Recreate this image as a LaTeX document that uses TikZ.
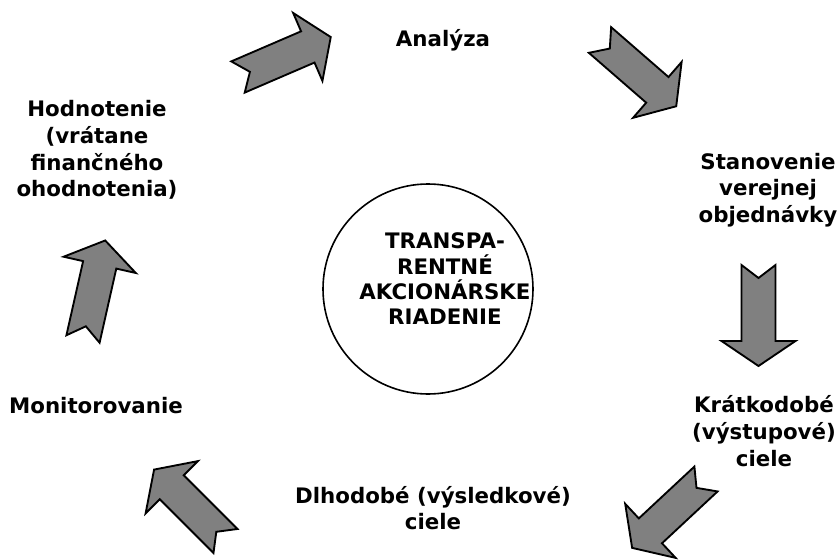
\documentclass[tikz,border=0pt]{standalone}
\usepackage{fontspec}
\setmainfont{DejaVu Sans}
\definecolor{arrowgray}{RGB}{128,128,128}
\begin{document}
\begin{tikzpicture}[x=0.75pt, y=-0.75pt,
  every node/.style = {align=center, inner sep=0pt,
    font=\fontsize{16}{20}\selectfont\bfseries},
  hub/.style = {circle, draw, line width=1.2pt, minimum size=157.5pt},
  blockarrow/.pic = {\draw[fill=arrowgray, line width=1.4pt, line join=miter]
    (0,-17) -- (13,0) -- (0,17) -- (76,17) -- (76,37) -- (101,0)
    -- (76,-37) -- (76,-17) -- cycle;}]

  \useasboundingbox (0,0) rectangle (840,560);

  \node [hub] (hub) at (428,289) {};
  \node [font=\fontsize{16}{19}\selectfont\bfseries] (title) at (445,279)
    {TRANSPA-\\RENTNÉ\\AKCIONÁRSKE\\RIADENIE};

  \node (analyza)    at (443,40)  {Analýza};
  \node (stanovenie) at (768,190) {Stanovenie\\verejnej\\objednávky};
  \node (kratkodobe) at (764,431) {Krátkodobé\\(výstupové)\\ciele};
  \node (dlhodobe)   at (433,508) {Dlhodobé (výsledkové)\\ciele};
  \node (monitor)    at (96,406)  {Monitorovanie};
  \node (hodnotenie) at (97,150)  {Hodnotenie\\(vrátane\\finančného\\ohodnotenia)};

  \pic [rotate=23.3]  at (238,77)    {blockarrow};
  \pic [rotate=-41]   at (600,40)    {blockarrow};
  \pic [rotate=-90]   at (758.5,265) {blockarrow};
  \pic [rotate=-137]  at (706,479)   {blockarrow};
  \pic [rotate=135]   at (225.5,541) {blockarrow};
  \pic [rotate=77.3]  at (83,339)    {blockarrow};

\end{tikzpicture}
\end{document}
